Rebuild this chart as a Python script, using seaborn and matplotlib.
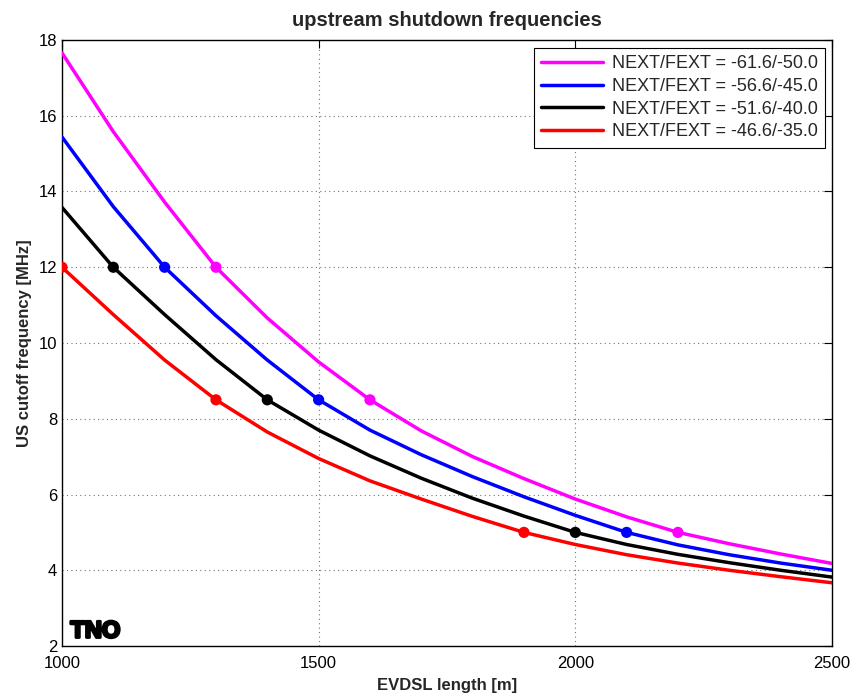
import pandas as pd
import seaborn as sns
import matplotlib.pyplot as plt
import matplotlib.patheffects as pe

# ---------------------------------- data ----------------------------------
length = [1000, 1100, 1200, 1300, 1400, 1500, 1600, 1700,
          1800, 1900, 2000, 2100, 2200, 2300, 2400, 2500]

# cutoff frequency [MHz] per curve
freq_615 = [17.66, 15.58, 13.72, 12.0, 10.66, 9.5, 8.5, 7.68,
            7.0, 6.42, 5.88, 5.41, 5.0, 4.7, 4.43, 4.18]
freq_566 = [15.44, 13.6, 12.0, 10.72, 9.55, 8.5, 7.7, 7.05,
            6.47, 5.94, 5.45, 5.0, 4.67, 4.41, 4.19, 4.0]
freq_516 = [13.58, 12.0, 10.75, 9.56, 8.5, 7.7, 7.02, 6.43,
            5.9, 5.43, 5.0, 4.68, 4.42, 4.2, 4.0, 3.82]
freq_466 = [12.0, 10.75, 9.55, 8.5, 7.65, 6.95, 6.36, 5.88,
            5.42, 5.0, 4.68, 4.41, 4.19, 4.0, 3.83, 3.67]

labels = ['NEXT/FEXT = -61.6/-50.0', 'NEXT/FEXT = -56.6/-45.0',
          'NEXT/FEXT = -51.6/-40.0', 'NEXT/FEXT = -46.6/-35.0']
colors = ['#ff00ff', '#0000ff', '#000000', '#ff0000']

# marked points (length where curve hits 12 / 8.5 / 5 MHz)
mark_freq = [12, 8.5, 5]
mark_615 = [1300, 1600, 2200]
mark_566 = [1200, 1500, 2100]
mark_516 = [1100, 1400, 2000]
mark_466 = [1000, 1300, 1900]

#-------------------------------- dataframes --------------------------------
curves = pd.concat([
    pd.DataFrame({'length': length, 'freq': f, 'curve': lab})
    for f, lab in zip([freq_615, freq_566, freq_516, freq_466], labels)
])
marks = pd.concat([
    pd.DataFrame({'length': m, 'freq': mark_freq, 'curve': lab})
    for m, lab in zip([mark_615, mark_566, mark_516, mark_466], labels)
])

#---------------------------------- plot ------------------------------------
sns.set_style('white')
plt.rcParams['font.family'] = ['Liberation Sans', 'DejaVu Sans']

fig = plt.figure(figsize=(8.56, 6.93), dpi=100)
ax = fig.add_axes([0.0724, 0.0678, 0.8995, 0.8745])

sns.lineplot(data=curves, x='length', y='freq', hue='curve', hue_order=labels,
             palette=colors, linewidth=2.5, ax=ax, zorder=3)
sns.scatterplot(data=marks, x='length', y='freq', hue='curve', hue_order=labels,
                palette=colors, s=65, linewidth=0, legend=False, ax=ax, zorder=4)

ax.set_xlim(1000, 2500)
ax.set_ylim(2, 18)
ax.set_xticks([1000, 1500, 2000, 2500])
ax.set_yticks(range(2, 19, 2))
ax.grid(True, linestyle=(0, (1, 3)), color='0.45', linewidth=0.8)
ax.tick_params(direction='in', top=True, right=True, length=6, width=0.8,
               labelsize=12, colors='black')
ax.tick_params(axis='x', pad=7)
for s in ax.spines.values():
    s.set_color('black')
    s.set_linewidth(1)

ax.set_title('upstream shutdown frequencies', fontweight='bold', fontsize=14.5, pad=10)
ax.set_xlabel('EVDSL length [m]', fontweight='bold', fontsize=12, labelpad=5)
ax.set_ylabel('US cutoff frequency [MHz]', fontweight='bold', fontsize=12, labelpad=5)

handles, labs = ax.get_legend_handles_labels()
leg = ax.legend(handles, labs, loc='upper right', bbox_to_anchor=(0.991, 0.987),
                borderaxespad=0, fancybox=False, edgecolor='black', framealpha=1,
                fontsize=13, handlelength=3.4, labelspacing=0.32,
                borderpad=0.4, handletextpad=0.5)
leg.get_frame().set_linewidth(0.8)

# TNO logo
ax.text(0.011, 0.014, 'TNO', transform=ax.transAxes, fontsize=17,
        fontweight='bold', color='black', va='baseline', ha='left',
        path_effects=[pe.withStroke(linewidth=2, foreground='black')])

plt.savefig('out.png', dpi=100)
